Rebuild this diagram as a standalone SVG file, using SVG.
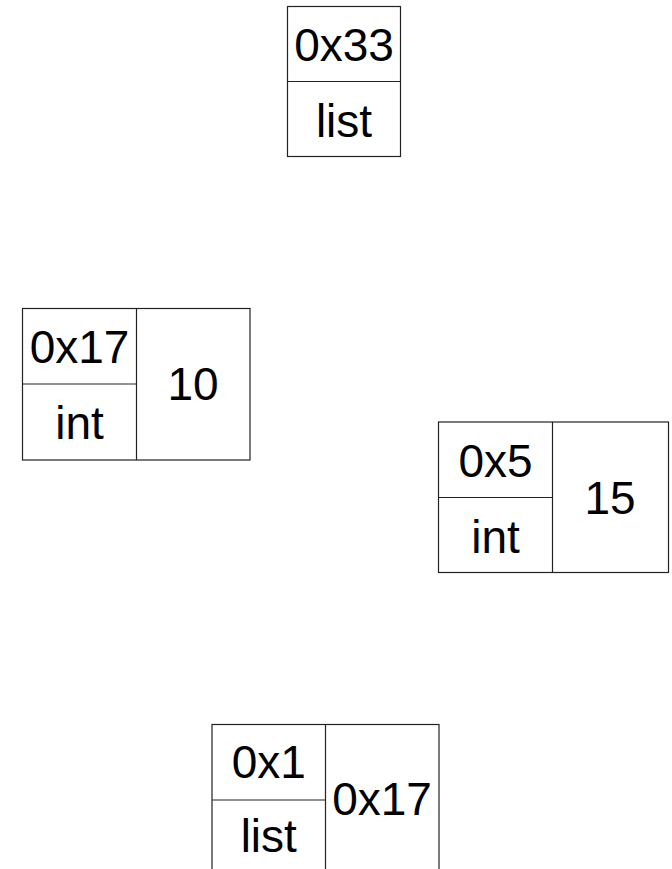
<svg xmlns="http://www.w3.org/2000/svg" width="672" height="869" viewBox="0 0 672 869">
<style>
.c{fill:#fff;stroke:#222;stroke-width:1.2}
.l{stroke:#222;stroke-width:1.2}
text{font-family:"Liberation Sans",Arial,sans-serif;font-size:46px;fill:#000;text-anchor:middle}
</style>
<rect width="672" height="869" fill="#fff"/>
<g id="node-0x33">
<rect class="c" x="287.5" y="6.5" width="113" height="150"/>
<line class="l" x1="287.5" y1="81.5" x2="400.5" y2="81.5"/>
<text x="344" y="61">0x33</text>
<text x="344" y="137">list</text>
</g>
<g id="node-0x17">
<rect class="c" x="22.5" y="308.5" width="227.5" height="151.5"/>
<line class="l" x1="136.5" y1="308.5" x2="136.5" y2="460"/>
<line class="l" x1="22.5" y1="384" x2="136.5" y2="384"/>
<text x="79.5" y="363">0x17</text>
<text x="79.5" y="439">int</text>
<text x="193" y="400">10</text>
</g>
<g id="node-0x5">
<rect class="c" x="438.5" y="422" width="230" height="150.5"/>
<line class="l" x1="552.5" y1="422" x2="552.5" y2="572.5"/>
<line class="l" x1="438.5" y1="497.5" x2="552.5" y2="497.5"/>
<text x="495.5" y="477">0x5</text>
<text x="495.5" y="553">int</text>
<text x="610" y="514">15</text>
</g>
<g id="node-0x1">
<rect class="c" x="212" y="724.5" width="227" height="152"/>
<line class="l" x1="325.5" y1="724.5" x2="325.5" y2="876"/>
<line class="l" x1="212" y1="800" x2="325.5" y2="800"/>
<text x="268.75" y="778">0x1</text>
<text x="268.75" y="852">list</text>
<text x="382" y="815">0x17</text>
</g>
<g id="connectors"/>
</svg>
